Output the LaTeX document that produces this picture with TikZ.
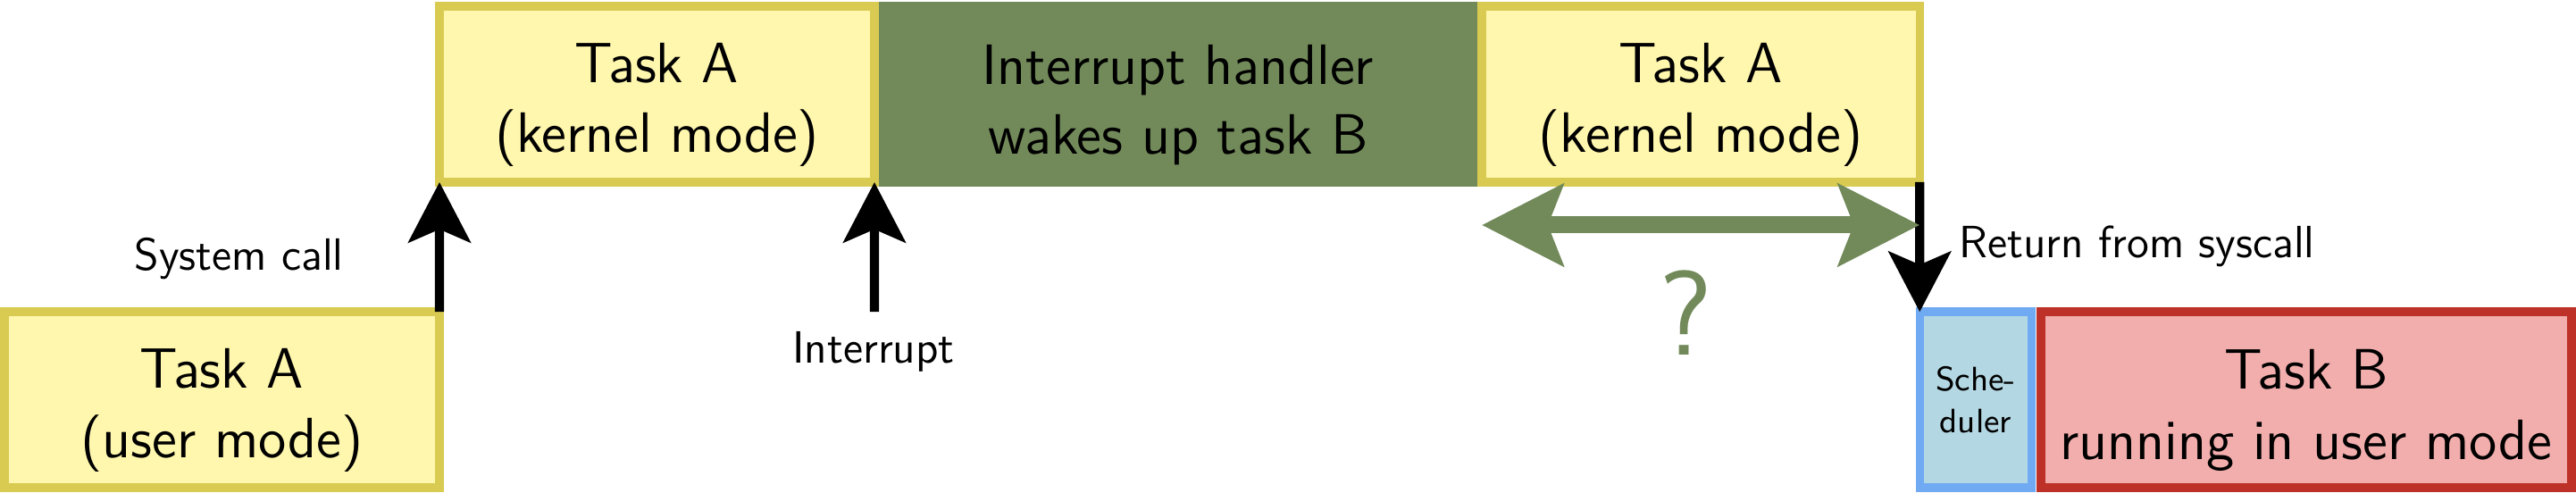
\documentclass[tikz,border=0pt]{standalone}
\usepackage{tikz}
\usetikzlibrary{arrows.meta,calc}
\renewcommand{\familydefault}{\sfdefault}
\definecolor{taskyellow}{HTML}{FFF7AE}
\definecolor{taskyellowline}{HTML}{D9CB52}
\definecolor{handlergreen}{HTML}{728A5A}
\definecolor{schedblue}{HTML}{B4D8E3}
\definecolor{schedblueline}{HTML}{6FAAF3}
\definecolor{taskred}{HTML}{F2AEAD}
\definecolor{taskredline}{HTML}{BD3128}
\tikzset{
  slot/.style={draw, line width=2.25pt, outer sep=0pt, inner sep=0pt,
    anchor=south west, align=center, minimum height=1.64cm},
  slottext/.style={inner sep=0pt, align=center, font=\fontsize{15.1}{18.6}\selectfont},
  taskA/.style={slot, draw=taskyellowline, fill=taskyellow},
  note/.style={font=\large, inner sep=0pt},
  sysarrow/.style={line width=2.4pt, -{Stealth[length=16pt, width=16.5pt, inset=3.5pt]}},
  waitarrow/.style={handlergreen, line width=4.5pt,
    {Stealth[length=21.5pt, width=21.5pt, inset=4pt]}-{Stealth[length=21.5pt, width=21.5pt, inset=4pt]}}
}
\newcommand{\timeslot}[5]
{   \node[#1, minimum width=#4] (#2) at (#3) {};
    \node[slottext] (#2text) at ($(#2.center)+(0,-0.1)$) {#5};
}

\begin{document}
\begin{tikzpicture}
 \useasboundingbox (0,0) rectangle (24.033,4.6);

 % time slots
 \timeslot{slot, draw=handlergreen, fill=handlergreen}{handler}{8.158,2.90}{5.667cm}{Interrupt handler\\wakes up task B}
 \timeslot{taskA}{kernA}{4.10,2.90}{4.058cm}{Task A\\(kernel mode)}
 \timeslot{taskA}{kernAagain}{13.825,2.90}{4.085cm}{Task A\\(kernel mode)}
 \timeslot{taskA}{user}{0.04,0.05}{4.06cm}{Task A\\(user mode)}
 \node[slot, draw=schedblueline, fill=schedblue, minimum width=1.044cm, font=\small] (sched) at (17.91,0.05) {Sche-\\duler};
 \timeslot{slot, draw=taskredline, fill=taskred}{taskB}{19.04,0.05}{4.95cm}{Task B\\running in user mode}

 % transitions
 \coordinate (irq) at (8.158,1.69);
 \draw[sysarrow] (user.north east) -- (kernA.south west);
 \draw[sysarrow] (irq) -- (kernA.south east);
 \draw[sysarrow] (kernAagain.south east) -- (sched.north west);
 \draw[waitarrow] ($(kernAagain.south west)+(0,-0.4)$) -- ($(kernAagain.south east)+(0,-0.4)$);

 \node[note] (syscall) at (2.23,2.19) {System call};
 \node[note] (irqtext) at (8.15,1.317) {Interrupt};
 \node[note, anchor=west] (rettext) at (18.27,2.30) {Return from syscall};
 \node[text=handlergreen, inner sep=0pt, font=\fontsize{32}{38}\selectfont] (unknown) at (15.725,1.683) {?};

\end{tikzpicture}
\end{document}
